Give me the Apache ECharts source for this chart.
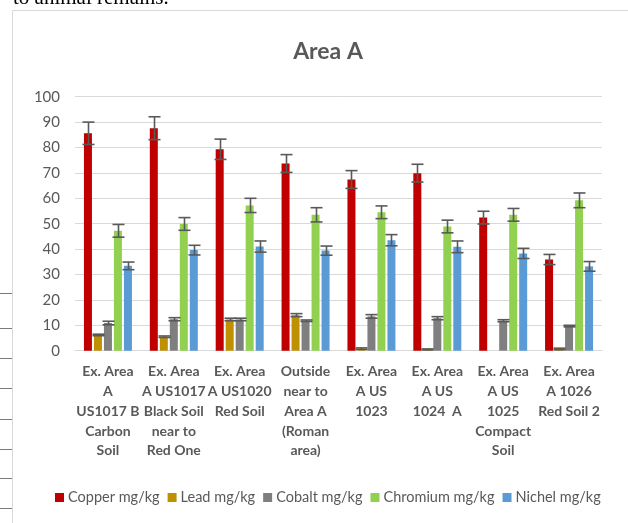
<!DOCTYPE html>
<html>
<head>
<meta charset="utf-8">
<script src="https://cdn.jsdelivr.net/npm/echarts@6/dist/echarts.min.js"></script>
<style>
html,body{margin:0;padding:0;background:#fff;}
#c{width:628px;height:523px;}
</style>
</head>
<body>
<div id="c"></div>
<script>
var categories = [
  "Ex. Area\nA\nUS1017 B\nCarbon\nSoil",
  "Ex. Area\nA US1017\nBlack Soil\nnear to\nRed One",
  "Ex. Area\nA US1020\nRed Soil",
  "Outside\nnear to\nArea A\n(Roman\narea)",
  "Ex. Area\nA US\n1023",
  "Ex. Area\nA US\n1024  A",
  "Ex. Area\nA US\n1025\nCompact\nSoil",
  "Ex. Area\nA 1026\nRed Soil 2"
];
var seriesNames = ["Copper mg/kg", "Lead mg/kg", "Cobalt mg/kg", "Chromium mg/kg", "Nichel mg/kg"];
var copper      = [85.6, 87.6, 79.3, 73.7, 67.4, 69.9, 52.4, 35.9];
var copperErr   = [4.4, 4.5, 4.0, 3.5, 3.5, 3.5, 2.5, 2.0];
var lead        = [6.2, 5.5, 12.3, 14.0, 0.8, 0.5, 0, 0.7];
var leadErr     = [0.3, 0.3, 0.5, 0.6, 0.3, 0.2, 0, 0.3];
var cobalt      = [10.9, 12.4, 12.3, 11.8, 13.5, 12.8, 11.8, 9.7];
var cobaltErr   = [0.7, 0.6, 0.5, 0.3, 0.7, 0.6, 0.4, 0.3];
var chromium    = [47.2, 49.9, 57.2, 53.5, 54.5, 48.9, 53.5, 59.2];
var chromiumErr = [2.5, 2.5, 2.8, 2.8, 2.5, 2.5, 2.5, 2.9];
var nichel      = [33.4, 39.6, 41.0, 39.4, 43.5, 40.9, 38.3, 33.2];
var nichelErr   = [1.5, 1.9, 2.2, 1.8, 2.2, 2.3, 2.0, 1.9];
var yTicks = {min: 0, max: 100, interval: 10};

var values = [copper, lead, cobalt, chromium, nichel];
var errors = [copperErr, leadErr, cobaltErr, chromiumErr, nichelErr];
var colors = ["#C00000", "#BF9000", "#7F7F7F", "#92D050", "#5B9BD5"];

var FONT = "Lato, 'Open Sans', sans-serif";
var chart = echarts.init(document.getElementById('c'), null, {renderer: 'canvas'});

var series = [];
seriesNames.forEach(function (n, k) {
  series.push({
    name: n, type: 'bar', barWidth: 8, barGap: '25%',
    itemStyle: {color: colors[k]},
    data: values[k]
  });
});
seriesNames.forEach(function (n, k) {
  series.push({
    name: n + ' error', type: 'custom', z: 5,
    encode: {x: 0, y: 1},
    renderItem: function (params, api) {
      var i = api.value(0), v = api.value(1), e = api.value(2);
      if (!e) return null;
      var hi = api.coord([i, v + e]);
      var lo = api.coord([i, Math.max(v - e, 0)]);
      var x = Math.round(hi[0] + (k - 2) * 10) + 0.5;
      var cap = 6;
      var st = {stroke: '#595959', lineWidth: 1.6};
      return {type: 'group', children: [
        {type: 'line', shape: {x1: x, y1: hi[1], x2: x, y2: lo[1]}, style: st},
        {type: 'line', shape: {x1: x - cap, y1: hi[1], x2: x + cap, y2: hi[1]}, style: st},
        {type: 'line', shape: {x1: x - cap, y1: lo[1], x2: x + cap, y2: lo[1]}, style: st}
      ]};
    },
    data: values[k].map(function (v, i) { return [i, v, errors[k][i]]; })
  });
});

var leftLines = [293, 328, 358, 388, 419, 449, 478, 508].map(function (y) {
  return {type: 'line', shape: {x1: 0, y1: y + 0.5, x2: 12, y2: y + 0.5}, style: {stroke: '#7a7a7a', lineWidth: 1}, silent: true};
});

chart.setOption({
  animation: false,
  textStyle: {fontFamily: FONT},
  title: {
    text: 'Area A', left: 323, top: 35, textAlign: 'center',
    textStyle: {fontFamily: FONT, fontSize: 23, fontWeight: 'bold', color: '#595959'}
  },
  legend: {
    data: seriesNames, left: 50, top: 485,
    itemWidth: 9, itemHeight: 9, itemGap: 8,
    icon: 'rect',
    textStyle: {fontFamily: FONT, fontSize: 14.5, color: '#595959', padding: [0, 0, 0, -1]}
  },
  grid: {left: 75, right: 26, top: 96.7, bottom: 172.3},
  xAxis: {
    type: 'category', data: categories,
    axisTick: {show: false},
    axisLine: {lineStyle: {color: '#D9D9D9', width: 1}},
    axisLabel: {interval: 0, margin: 11, fontFamily: FONT, fontSize: 14, fontWeight: 'bold', color: '#595959', lineHeight: 19.8}
  },
  yAxis: {
    type: 'value', min: yTicks.min, max: yTicks.max, interval: yTicks.interval,
    axisLine: {show: false}, axisTick: {show: false},
    splitLine: {lineStyle: {color: '#D9D9D9', width: 1}},
    axisLabel: {margin: 15, fontFamily: FONT, fontSize: 15, color: '#595959'}
  },
  graphic: [
    {type: 'rect', shape: {x: 12.5, y: 10.5, width: 800, height: 700}, style: {fill: 'none', stroke: '#D9D9D9', lineWidth: 1}, silent: true, z: -10},
    {type: 'text', x: 13, y: 9, style: {text: 'to animal remains.', font: '21px "Liberation Serif", serif', fill: '#000', verticalAlign: 'bottom', align: 'left'}, silent: true}
  ].concat(leftLines),
  series: series
});
</script>
</body>
</html>
